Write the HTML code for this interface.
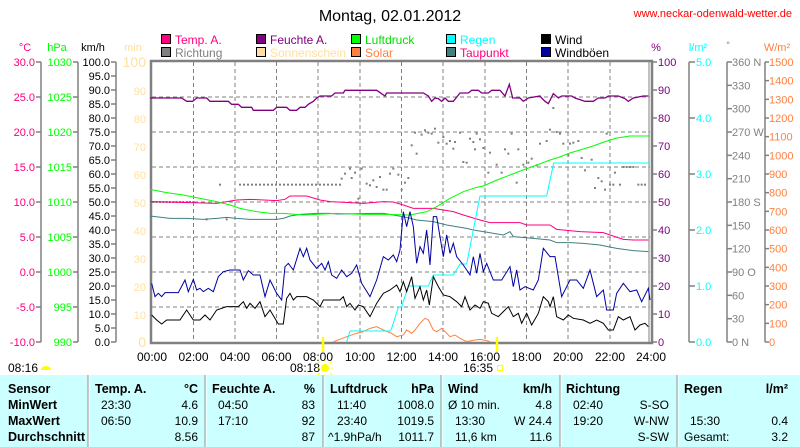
<!DOCTYPE html>
<html><head><meta charset="utf-8"><style>
body{margin:0;background:#fff;}
svg{display:block;font-family:"Liberation Sans",sans-serif;}
.t{font-size:12px;}
.s{font-size:11px;}
.b{font-size:12.5px;font-weight:bold;}
</style></head><body>
<svg width="800" height="447" viewBox="0 0 800 447" xmlns="http://www.w3.org/2000/svg">
<rect width="800" height="447" fill="#fff"/>
<text x="390" y="21" font-size="16" text-anchor="middle">Montag, 02.01.2012</text>
<text x="792" y="17" font-size="11" fill="#ff0000" text-anchor="end">www.neckar-odenwald-wetter.de</text>

<g stroke="#000" stroke-width="1">
<rect x="161.5" y="34.5" width="9" height="9" fill="#ff0080"/><rect x="256.5" y="34.5" width="9" height="9" fill="#800080"/><rect x="351.5" y="34.5" width="9" height="9" fill="#00ff00"/><rect x="446.5" y="34.5" width="9" height="9" fill="#00ffff"/><rect x="541.5" y="34.5" width="9" height="9" fill="#000"/>
<rect x="161.5" y="47.5" width="9" height="9" fill="#808080"/><rect x="256.5" y="47.5" width="9" height="9" fill="#ffe0a0"/><rect x="351.5" y="47.5" width="9" height="9" fill="#ff8040"/><rect x="446.5" y="47.5" width="9" height="9" fill="#408080"/><rect x="541.5" y="47.5" width="9" height="9" fill="#0000a0"/>
</g>
<g class="t">
<text x="175" y="44" fill="#ff0080">Temp. A.</text><text x="270" y="44" fill="#800080">Feuchte A.</text><text x="365" y="44" fill="#00e000">Luftdruck</text><text x="460" y="44" fill="#00ffff">Regen</text><text x="555" y="44">Wind</text>
<text x="175" y="57" fill="#808080">Richtung</text><text x="270" y="57" fill="#ffe0a0">Sonnenschein</text><text x="365" y="57" fill="#ff8040">Solar</text><text x="460" y="57" fill="#ff0080">Taupunkt</text><text x="555" y="57">Windböen</text>
</g>

<g class="s" text-anchor="middle">
<text x="25" y="51" fill="#ff0080">°C</text><text x="57" y="51" fill="#00ff00">hPa</text><text x="93" y="51">km/h</text><text x="133" y="51" fill="#ffe0a0">min</text>
<text x="656" y="51" fill="#800080">%</text><text x="698" y="51" fill="#00ffff">l/m²</text><text x="728" y="48" fill="#808080" font-size="9">°</text><text x="777" y="51" fill="#ff8040">W/m²</text>
</g>

<g stroke="#808080" stroke-width="1" stroke-dasharray="4,3">
<path d="M152 97H650M152 132H650M152 167H650M152 202H650M152 237H650M152 272H650M152 307H650"/>
<path d="M193.5 62V342M235 62V342M276.5 62V342M318 62V342M360 62V342M401.5 62V342M443 62V342M485 62V342M526.5 62V342M568 62V342M610 62V342"/>
</g>

<g stroke="#808080" stroke-width="1.5" fill="none">
<path d="M41 62V342M36 62H41M36 97H41M36 132H41M36 167H41M36 202H41M36 237H41M36 272H41M36 307H41M36 342H41"/>
<path d="M78 62V342M73 62H78M73 97H78M73 132H78M73 167H78M73 202H78M73 237H78M73 272H78M73 307H78M73 342H78"/>
<path d="M116 62V342"/>
</g>
<g class="s" text-anchor="end" fill="#ff0080">
<text x="35" y="66">30.0</text><text x="35" y="101">25.0</text><text x="35" y="136">20.0</text><text x="35" y="171">15.0</text><text x="35" y="206">10.0</text><text x="35" y="241">5.0</text><text x="35" y="276">0.0</text><text x="35" y="311">-5.0</text><text x="35" y="346">-10.0</text>
</g>
<g class="s" text-anchor="end" fill="#00ff00">
<text x="72" y="66">1030</text><text x="72" y="101">1025</text><text x="72" y="136">1020</text><text x="72" y="171">1015</text><text x="72" y="206">1010</text><text x="72" y="241">1005</text><text x="72" y="276">1000</text><text x="72" y="311">995</text><text x="72" y="346">990</text>
</g>
<g class="s" text-anchor="end" id="kmh"></g>
<g class="s" text-anchor="end" fill="#ffe0a0" id="minax"></g>

<g stroke="#808080" stroke-width="1.5" fill="none">
<path d="M689 62V342M727 62V342M765 62V342"/>
</g>
<g id="rax"></g>

<path d="M151 61H652V343H151Z" fill="none" stroke="#808080" stroke-width="2.5"/>
<path d="M649 62V342" stroke="#808080" stroke-width="1"/>

<g fill="#808080" id="dots"></g>

<g transform="translate(150,180) scale(0.33333)" fill="none">
<polyline vector-effect="non-scaling-stroke" stroke="#ff8040" points="550,485 570,478 590,470 620,460 640,455 660,445 680,440 700,450 725,460 740,470 760,465 770,450 785,460 795,450 810,430 825,415 835,420 850,450 860,455 875,445 890,460 900,470 915,465 930,475 950,485 975,480 990,478 1010,482 1020,485"/>
<polyline vector-effect="non-scaling-stroke" stroke="#408080" points="0,108 60,115 110,115 160,118 200,115 230,112 260,115 300,118 380,118 400,115 420,108 450,103 500,100 540,100 560,102 680,100 700,100 730,105 770,112 800,120 850,125 890,135 950,145 970,150 1000,155 1060,165 1080,155 1090,170 1150,175 1200,180 1220,188 1260,188 1300,190 1350,195 1400,205 1450,212 1495,215"/>
<polyline vector-effect="non-scaling-stroke" stroke="#ff0080" points="0,65 120,68 200,70 260,60 300,58 380,62 405,58 420,48 470,48 510,60 540,65 600,68 640,70 700,65 730,66 760,75 790,85 850,85 880,90 910,95 940,105 990,120 1020,128 1110,128 1130,135 1200,135 1220,148 1290,155 1360,158 1380,165 1420,178 1450,180 1495,180"/>
<polyline vector-effect="non-scaling-stroke" stroke="#00ff00" points="0,28 50,38 100,45 150,55 200,65 240,75 270,85 320,95 360,100 400,100 460,105 520,102 560,100 640,103 700,103 780,105 830,95 860,80 900,55 940,35 980,22 1000,18 1041,0 1080,-15 1119,-30 1161,-45 1200,-60 1221,-66 1260,-81 1320,-99 1380,-120 1401,-126 1440,-132 1500,-132"/>
<polyline vector-effect="non-scaling-stroke" stroke="#00ffff" points="590,485 600,453 720,453 725,445 745,382 755,380 775,318 835,318 850,285 910,285 930,252 950,252 990,48 1190,48 1211,-51 1500,-51"/>
<polyline vector-effect="non-scaling-stroke" stroke="#0000a0" points="5,310 15,350 25,340 35,350 45,338 85,338 105,300 115,335 130,298 140,330 150,325 160,335 175,325 190,335 205,290 220,275 240,270 270,270 280,300 295,272 310,285 330,285 345,350 360,300 380,340 395,360 405,260 415,250 430,270 450,205 460,230 470,205 480,240 500,265 515,250 525,270 535,245 545,285 560,295 575,270 590,290 605,280 620,255 635,310 660,350 680,300 700,230 715,240 730,225 740,245 750,210 760,95 770,140 780,95 790,140 800,250 810,200 820,220 830,150 840,255 850,110 860,110 870,170 880,230 890,165 900,220 910,190 920,230 940,255 960,285 970,230 980,280 990,220 1000,275 1010,250 1030,300 1055,300 1080,260 1090,320 1100,270 1110,330 1125,320 1150,330 1165,300 1180,205 1200,230 1215,230 1235,350 1260,300 1280,300 1300,325 1320,270 1340,350 1360,330 1370,390 1390,390 1400,340 1420,310 1440,335 1460,330 1475,365 1495,325 1500,360"/>
<polyline vector-effect="non-scaling-stroke" stroke="#000" points="5,405 20,420 35,432 50,420 90,420 110,390 130,420 150,420 165,405 180,420 200,390 230,380 265,380 280,365 290,385 300,370 315,385 330,365 345,410 360,390 385,432 400,432 410,355 420,340 430,360 440,350 470,350 490,360 510,380 520,360 570,360 580,350 590,380 600,370 615,390 625,375 640,380 660,410 680,370 700,340 720,330 740,315 750,335 760,305 770,335 785,290 795,355 810,320 820,360 830,330 838,375 850,290 865,320 880,345 900,350 920,365 935,380 945,350 960,390 975,375 990,385 1000,365 1015,370 1025,400 1045,410 1060,395 1075,380 1090,410 1105,400 1115,430 1130,400 1145,435 1165,400 1180,350 1195,365 1200,380 1210,350 1220,410 1240,420 1255,405 1270,415 1300,420 1320,430 1340,420 1360,430 1375,450 1390,450 1405,410 1420,420 1440,410 1455,450 1470,435 1485,430 1495,440"/>
</g>
<g transform="translate(150,62) scale(0.33333)" fill="none">
<polyline vector-effect="non-scaling-stroke" stroke="#800080" stroke-width="1.3" points="0,108 95,108 110,118 128,118 140,108 170,108 180,118 235,118 245,127 265,127 275,136 305,136 310,145 370,145 380,136 410,136 420,145 440,145 450,136 465,136 475,127 490,118 500,108 510,102 545,102 555,93 580,93 585,85 680,85 705,102 710,93 820,93 835,102 845,118 855,108 865,110 875,118 885,108 895,118 910,118 930,93 955,93 965,85 985,85 995,93 1015,93 1025,85 1050,85 1065,102 1078,67 1088,108 1110,108 1120,118 1135,108 1170,102 1175,108 1185,118 1195,125 1210,95 1225,108 1235,102 1265,102 1275,108 1305,118 1330,118 1345,108 1365,108 1375,102 1405,102 1425,110 1435,118 1450,108 1480,102 1495,102"/>
</g>

<g class="t" text-anchor="middle">
<text x="152" y="361">00:00</text><text x="193.5" y="361">02:00</text><text x="235" y="361">04:00</text><text x="276.5" y="361">06:00</text><text x="318" y="361">08:00</text><text x="360" y="361">10:00</text><text x="401.5" y="361">12:00</text><text x="443" y="361">14:00</text><text x="485" y="361">16:00</text><text x="526.5" y="361">18:00</text><text x="568" y="361">20:00</text><text x="610" y="361">22:00</text><text x="651" y="361">24:00</text>
</g>
<path d="M323 337V352M497 337V352" stroke="#ffff00" stroke-width="2.5"/>
<g class="t">
<text x="8" y="372">08:16</text><text x="290" y="372">08:18</text><text x="463" y="372">16:35</text>
</g>
<path d="M41 370a5 4 0 0 1 10 0z" fill="#ffff00"/>
<circle cx="325" cy="368" r="4" fill="#ffff00"/>
<g stroke="#ffff00" stroke-width="1"><path d="M319 368h-2M331 368h2M325 362v-2M325 374v2M320 363l-2-2M330 363l2-2M320 373l-2 2M330 373l2 2"/></g>
<rect x="497.5" y="365.5" width="5" height="5" fill="none" stroke="#ffff00"/>

<rect x="0" y="375" width="800" height="72" fill="#ccffff"/>
<g stroke="#909090" stroke-width="1"><path d="M88 375V447M205 375V447M323 375V447M441 375V447M560 375V447M677 375V447"/></g>
<g stroke="#fff" stroke-width="1"><path d="M89 375V447M206 375V447M324 375V447M442 375V447M561 375V447M678 375V447"/></g>
<g class="b">
<text x="8" y="393">Sensor</text><text x="8" y="409">MinWert</text><text x="8" y="425">MaxWert</text><text x="8" y="441">Durchschnitt</text>
<text x="95" y="393">Temp. A.</text><text x="198" y="393" text-anchor="end">°C</text>
<text x="212" y="393">Feuchte A.</text><text x="315" y="393" text-anchor="end">%</text>
<text x="330" y="393">Luftdruck</text><text x="434" y="393" text-anchor="end">hPa</text>
<text x="448" y="393">Wind</text><text x="552" y="393" text-anchor="end">km/h</text>
<text x="566" y="393">Richtung</text>
<text x="684" y="393">Regen</text><text x="788" y="393" text-anchor="end">l/m²</text>
</g>
<g class="t">
<text x="101" y="409">23:30</text><text x="198" y="409" text-anchor="end">4.6</text>
<text x="101" y="425">06:50</text><text x="198" y="425" text-anchor="end">10.9</text>
<text x="198" y="441" text-anchor="end">8.56</text>
<text x="218" y="409">04:50</text><text x="315" y="409" text-anchor="end">83</text>
<text x="218" y="425">17:10</text><text x="315" y="425" text-anchor="end">92</text>
<text x="315" y="441" text-anchor="end">87</text>
<text x="337" y="409">11:40</text><text x="434" y="409" text-anchor="end">1008.0</text>
<text x="337" y="425">23:40</text><text x="434" y="425" text-anchor="end">1019.5</text>
<text x="328" y="441">^1.9hPa/h</text><text x="434" y="441" text-anchor="end">1011.7</text>
<text x="448" y="409">Ø 10 min.</text><text x="552" y="409" text-anchor="end">4.8</text>
<text x="455" y="425">13:30</text><text x="552" y="425" text-anchor="end">W 24.4</text>
<text x="455" y="441">11,6 km</text><text x="552" y="441" text-anchor="end">11.6</text>
<text x="573" y="409">02:40</text><text x="669" y="409" text-anchor="end">S-SO</text>
<text x="573" y="425">19:20</text><text x="669" y="425" text-anchor="end">W-NW</text>
<text x="669" y="441" text-anchor="end">S-SW</text>
<text x="690" y="425">15:30</text><text x="788" y="425" text-anchor="end">0.4</text>
<text x="684" y="441">Gesamt:</text><text x="788" y="441" text-anchor="end">3.2</text>
</g>
</svg>
<script>
var NS="http://www.w3.org/2000/svg";
function el(p,n,a,t){var e=document.createElementNS(NS,n);for(var k in a)e.setAttribute(k,a[k]);if(t!==undefined)e.textContent=t;p.appendChild(e);return e;}
var svg=document.querySelector("svg");
var k=document.getElementById("kmh");
for(var i=0;i<=20;i++){var y=62+i*14;el(k,"text",{x:110,y:y+4},(100-i*5).toFixed(1));el(svg,"path",{d:"M111 "+y+"H116",stroke:"#808080","stroke-width":1.5});}
var m=document.getElementById("minax");
for(var i=0;i<=10;i++){var y=62+i*28;el(m,"text",{x:146,y:y+5,"font-size":i==0||i==10?14:11},String(100-i*10));}
var r=document.getElementById("rax");
for(var i=0;i<=10;i++){var y=62+i*28;el(svg,"path",{d:"M652 "+y+"H657",stroke:"#808080","stroke-width":1.5});el(r,"text",{x:658,y:y+4,"class":"s",fill:"#800080"},String(100-i*10));}
for(var i=0;i<=5;i++){var y=62+i*56;el(svg,"path",{d:"M689 "+y+"H695",stroke:"#808080","stroke-width":1.5});el(r,"text",{x:696,y:y+4,"class":"s",fill:"#00ffff"},(5-i).toFixed(1));}
var dn={0:" N",3:" W",6:" S",9:" O",12:" N"};
for(var i=0;i<=12;i++){var y=62+i*280/12;el(svg,"path",{d:"M727 "+y+"H732",stroke:"#808080","stroke-width":1.5});el(r,"text",{x:732,y:y+4,"class":"s",fill:"#808080"},String(360-i*30)+(dn[i]||""));}
for(var i=0;i<=15;i++){var y=62+i*280/15;el(svg,"path",{d:"M765 "+y+"H769",stroke:"#808080","stroke-width":1.5});el(r,"text",{x:769,y:y+4,"class":"s",fill:"#ff8040"},String(1500-i*100));}
var d=document.getElementById("dots");
var pts=[[210,368],[575,350],[585,335],[600,320],[605,348],[615,332],[625,410],[635,320],[650,365],[660,370],[670,355],[680,375],[690,345],[700,383],[710,383],[720,335],[730,320],[745,338],[755,383],[765,362],[775,348],[785,250],[795,212],[800,275],[815,218],[825,205],[835,212],[845,215],[855,200],[865,242],[880,225],[890,245],[900,237],[910,260],[915,240],[930,212],[940,300],[950,302],[960,230],[970,240],[975,262],[980,215],[990,232],[1000,258],[1015,332],[1020,272],[1040,308],[1055,332],[1065,262],[1075,275],[1085,215],[1100,362],[1105,262],[1120,308],[1135,302],[1145,290],[1160,310],[1170,245],[1190,237],[1200,203],[1210,138],[1220,210],[1230,215],[1240,245],[1255,280],[1260,245],[1270,242],[1285,237],[1295,288],[1305,325],[1325,293],[1335,378],[1345,348],[1355,358],[1365,383],[1370,215],[1380,368],[1390,368],[1395,332],[1410,368],[1420,315],[1430,315],[1440,315],[1450,315],[1465,368],[1475,368],[1485,368],[170,472],[230,472]];
for(var x=270;x<=570;x+=12)pts.push([x,368]);
for(var x=10;x<=130;x+=10)pts.push([x,420]);
pts.forEach(function(p){el(d,"rect",{x:150+p[0]/3-1,y:62+p[1]/3-1,width:2,height:2});});
</script>
</body></html>
